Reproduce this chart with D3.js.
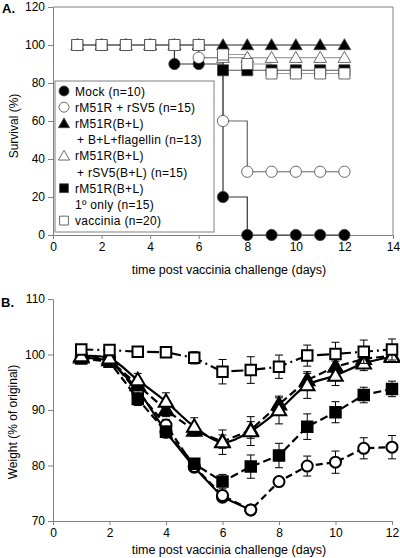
<!DOCTYPE html>
<html><head><meta charset="utf-8">
<script src="https://cdn.jsdelivr.net/npm/d3@7"></script>
<style>
body{margin:0;background:#fff;}
svg{display:block;font-family:"Liberation Sans",Arial,sans-serif;}
</style></head>
<body>
<svg id="c" width="400" height="558"></svg>
<script>
// ---------- Panel A data (survival, %) ----------
const days = [1,2,3,4,5,6,7,8,9,10,11,12];
const survMock    = [100,100,100,100,90,90,20,0,0,0,0,0];
const survRsv5    = [100,100,100,100,100,93.3,60,33.3,33.3,33.3,33.3,33.3];
const survFlag    = [100,100,100,100,100,100,100,100,100,100,100,100];
const survBL      = [100,100,100,100,100,100,93.3,93.3,93.3,93.3,93.3,93.3];
const survPrimary = [100,100,100,100,100,100,86.7,86.7,86.7,86.7,86.7,86.7];
const survVacc    = [100,100,100,100,100,100,95,90,85,85,85,85];
const xTicksA = [0,2,4,6,8,10,12,14];
const yTicksA = [0,20,40,60,80,100,120];
const legendLines = [
  ["Mock (n=10)"],
  ["rM51R + rSV5 (n=15)"],
  ["rM51R(B+L)", "+ B+L+flagellin (n=13)"],
  ["rM51R(B+L)", "+ rSV5(B+L) (n=15)"],
  ["rM51R(B+L)", "1º only (n=15)"],
  ["vaccinia (n=20)"]
];

// ---------- Panel B data (weight, % of original) ----------
const wMock     = [99.5,99.0,93.8,86.0,79.7,74.3,72.0];
const wMockErr  = [0.5,0.5,0.8,1.0,0.8,0.6,0.5];
const wRsv5     = [99.8,99.3,93.2,87.3,79.8,74.6,72.0,77.1,79.9,80.6,83.1,83.3];
const wRsv5Err  = [0.5,0.5,0.8,1.0,0.8,0.6,0.5,0.7,1.8,2.0,1.9,2.1];
const wFlag     = [99.5,99.0,94.5,90.0,86.3,84.3,86.4,91.0,95.4,97.8,99.2,99.8];
const wFlagErr  = [0.5,0.5,1.0,1.2,1.0,1.2,1.5,1.2,1.2,1.0,1.0,0.8];
const wBL       = [99.7,99.3,95.4,91.5,87.0,84.2,86.2,90.0,94.5,96.2,98.4,99.6];
const wBLErr    = [0.5,0.5,1.2,1.6,1.6,2.2,2.6,2.5,2.4,1.8,1.3,0.8];
const wPrim     = [99.3,98.7,92.0,86.1,80.3,77.1,79.8,81.8,87.0,89.6,92.7,93.8];
const wPrimErr  = [0.5,0.5,1.2,1.0,0.8,1.3,2.1,2.2,2.3,1.9,1.4,1.4];
const wVacc     = [100.9,100.8,100.5,100.4,99.4,96.9,97.2,97.8,99.8,100.1,100.5,100.9];
const wVaccErr  = [0.4,0.4,0.4,0.4,1.1,2.2,2.4,2.1,1.9,2.1,2.1,1.9];
const xTicksB = [0,2,4,6,8,10,12];
const yTicksB = [70,80,90,100,110];

const svg = d3.select("#c");
const AX = "#808080";

function symPath(kind, size){
  const t = kind==="circle"?d3.symbolCircle:kind==="square"?d3.symbolSquare:d3.symbolTriangle;
  return d3.symbol().type(t).size(size)();
}

// ================= PANEL A =================
const xA = d3.scaleLinear().domain([0,14]).range([53,393]);
const yA = d3.scaleLinear().domain([0,120]).range([235,7]);
const gA = svg.append("g");
gA.append("line").attr("x1",xA(0)).attr("x2",xA(14)).attr("y1",yA(120)).attr("y2",yA(120)).attr("stroke",AX);
gA.append("line").attr("x1",xA(14)).attr("x2",xA(14)).attr("y1",yA(120)).attr("y2",yA(0)).attr("stroke",AX);
const axA_x = gA.append("g").attr("transform",`translate(0,${yA(0)})`)
  .call(d3.axisBottom(xA).tickValues(xTicksA).tickSize(4).tickSizeOuter(0).tickPadding(3));
const axA_y = gA.append("g").attr("transform",`translate(${xA(0)},0)`)
  .call(d3.axisLeft(yA).tickValues(yTicksA).tickSize(5).tickSizeOuter(0).tickPadding(3));
[axA_x,axA_y].forEach(a=>{
  a.selectAll("path,line").attr("stroke",AX);
  a.selectAll("text").attr("font-size",12).attr("fill","#000").attr("font-family","Liberation Sans, Arial, sans-serif");
});
gA.append("text").attr("x",2).attr("y",13).attr("font-weight","bold").attr("font-size",13).text("A.");
gA.append("text").attr("transform","translate(18,126) rotate(-90)").attr("text-anchor","middle").attr("font-size",12).text("Survival (%)");
gA.append("text").attr("x",229).attr("y",274).attr("text-anchor","middle").attr("font-size",12.5).text("time post vaccinia challenge (days)");

const seriesA = [
  {v:survMock, sym:"circle", fill:"#000", line:"#333"},
  {v:survRsv5, sym:"circle", fill:"#fff", line:"#666"},
  {v:survFlag, sym:"triangle", fill:"#000", line:"#222"},
  {v:survBL, sym:"triangle", fill:"#fff", line:"#888"},
  {v:survPrimary, sym:"square", fill:"#000", line:"#555"},
  {v:survVacc, sym:"square", fill:"#fff", line:"#999"}
];
const stepLine = d3.line().x(d=>xA(d[0])).y(d=>yA(d[1])).curve(d3.curveStepAfter);
const sizesA = {circle:100, square:121, triangle:70};
seriesA.forEach(s=>{
  const pts = days.map((d,i)=>[d,s.v[i]]);
  gA.append("path").attr("d",stepLine(pts)).attr("fill","none").attr("stroke",s.line).attr("stroke-width",1.2);
});
seriesA.forEach(s=>{
  const pts = days.map((d,i)=>[d,s.v[i]]);
  gA.selectAll(null).data(pts).enter().append("path")
    .attr("d",symPath(s.sym,sizesA[s.sym]))
    .attr("transform",d=>`translate(${xA(d[0])},${yA(d[1])+(s.sym==="triangle"?1:0)})`)
    .attr("fill",s.fill).attr("stroke","#444").attr("stroke-width",0.8);
});
// legend
const leg = gA.append("g");
leg.append("rect").attr("x",55).attr("y",81).attr("width",159).attr("height",151).attr("fill","#fff").attr("stroke",AX);
let row = 0;
const rowY = r=>91+r*16.2;
legendLines.forEach((lines,i)=>{
  const s = seriesA[i];
  leg.append("path").attr("d",symPath(s.sym,s.sym==="triangle"?55:s.sym==="square"?78:78))
    .attr("transform",`translate(64,${rowY(row)+(s.sym==="triangle"?1:0)})`)
    .attr("fill",s.fill).attr("stroke","#444").attr("stroke-width",0.8);
  lines.forEach((t,j)=>{
    leg.append("text").attr("x",t.startsWith("+")?77:75).attr("y",rowY(row)+4.5)
      .attr("font-size",12).attr("letter-spacing",0.3).text(t);
    row++;
  });
});

// ================= PANEL B =================
const xB = d3.scaleLinear().domain([0,12]).range([53,392]);
const yB = d3.scaleLinear().domain([70,110]).range([521,299]);
const gB = svg.append("g");
const axB_x = gB.append("g").attr("transform",`translate(0,${yB(70)})`)
  .call(d3.axisBottom(xB).tickValues(xTicksB).tickSize(4).tickSizeOuter(0).tickPadding(3));
const axB_y = gB.append("g").attr("transform",`translate(${xB(0)},0)`)
  .call(d3.axisLeft(yB).tickValues(yTicksB).tickSize(5).tickSizeOuter(0).tickPadding(3));
[axB_x,axB_y].forEach(a=>{
  a.selectAll("path,line").attr("stroke",AX);
  a.selectAll("text").attr("font-size",12).attr("fill","#000").attr("font-family","Liberation Sans, Arial, sans-serif");
});
gB.append("text").attr("x",1).attr("y",307).attr("font-weight","bold").attr("font-size",13).text("B.");
gB.append("text").attr("transform","translate(17,422) rotate(-90)").attr("text-anchor","middle").attr("font-size",12).text("Weight (% of original)");
gB.append("text").attr("x",229).attr("y",554).attr("text-anchor","middle").attr("font-size",12.5).text("time post vaccinia challenge (days)");

const seriesB = [
  {v:wMock, e:wMockErr, sym:"circle", fill:"#000", dash:null, curve:d3.curveLinear},
  {v:wRsv5, e:wRsv5Err, sym:"circle", fill:"#fff", dash:"7,4", curve:d3.curveLinear},
  {v:wPrim, e:wPrimErr, sym:"square", fill:"#000", dash:"8,4", curve:d3.curveLinear},
  {v:wFlag, e:wFlagErr, sym:"triangle", fill:"#000", dash:"8,4", curve:d3.curveLinear},
  {v:wBL, e:wBLErr, sym:"triangle", fill:"#fff", dash:null, curve:d3.curveCatmullRom},
  {v:wVacc, e:wVaccErr, sym:"square", fill:"#fff", dash:"12,4,2,4", curve:d3.curveLinear}
];
const sizesB = {circle:95, square:110, triangle:90};
seriesB.forEach(s=>{
  const pts = s.v.map((v,i)=>[days[i],v,s.e[i]]);
  const ln = d3.line().x(d=>xB(d[0])).y(d=>yB(d[1])).curve(s.curve);
  gB.append("path").attr("d",ln(pts)).attr("fill","none").attr("stroke","#000")
    .attr("stroke-width",2.2).attr("stroke-dasharray",s.dash);
  const eb = gB.selectAll(null).data(pts).enter().append("g");
  eb.append("line").attr("x1",d=>xB(d[0])).attr("x2",d=>xB(d[0]))
    .attr("y1",d=>yB(d[1]-d[2])).attr("y2",d=>yB(d[1]+d[2])).attr("stroke","#000").attr("stroke-width",1);
  eb.append("line").attr("x1",d=>xB(d[0])-4).attr("x2",d=>xB(d[0])+4)
    .attr("y1",d=>yB(d[1]+d[2])).attr("y2",d=>yB(d[1]+d[2])).attr("stroke","#000").attr("stroke-width",1);
  eb.append("line").attr("x1",d=>xB(d[0])-4).attr("x2",d=>xB(d[0])+4)
    .attr("y1",d=>yB(d[1]-d[2])).attr("y2",d=>yB(d[1]-d[2])).attr("stroke","#000").attr("stroke-width",1);
  gB.selectAll(null).data(pts).enter().append("path")
    .attr("d",symPath(s.sym,sizesB[s.sym]))
    .attr("transform",d=>`translate(${xB(d[0])},${yB(d[1])+(s.sym==="triangle"?1:0)})`)
    .attr("fill",s.fill).attr("stroke","#000").attr("stroke-width",2);
});
</script>
</body></html>
